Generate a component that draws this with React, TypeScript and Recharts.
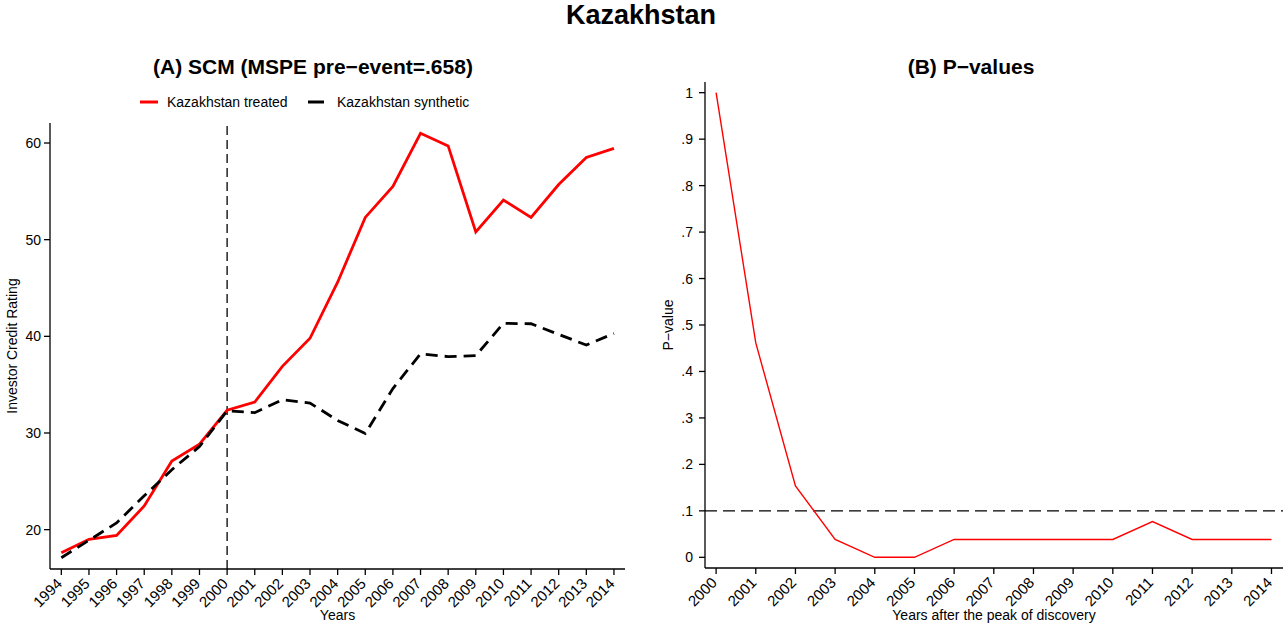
import { LineChart, Line, XAxis, YAxis, ReferenceLine } from 'recharts';

// Panel A: investor credit rating, treated vs synthetic
const years = [1994, 1995, 1996, 1997, 1998, 1999, 2000, 2001, 2002, 2003, 2004, 2005, 2006, 2007, 2008, 2009, 2010, 2011, 2012, 2013, 2014];
const treated = [17.6, 19.0, 19.4, 22.45, 27.1, 28.85, 32.35, 33.2, 36.9, 39.8, 45.6, 52.3, 55.5, 61.0, 59.7, 50.8, 54.1, 52.3, 55.7, 58.5, 59.45];
const synthetic = [17.1, 18.9, 20.7, 23.5, 26.2, 28.6, 32.3, 32.1, 33.45, 33.1, 31.3, 29.95, 34.6, 38.2, 37.9, 38.0, 41.35, 41.3, 40.2, 39.1, 40.3];
const ratingTicks = [20, 30, 40, 50, 60];

// Panel B: p-values after the peak
const pYears = [2000, 2001, 2002, 2003, 2004, 2005, 2006, 2007, 2008, 2009, 2010, 2011, 2012, 2013, 2014];
const pValues = [1, 0.4615, 0.1538, 0.0385, 0, 0, 0.0385, 0.0385, 0.0385, 0.0385, 0.0385, 0.0769, 0.0385, 0.0385, 0.0385];
const pTicks = [0, 0.1, 0.2, 0.3, 0.4, 0.5, 0.6, 0.7, 0.8, 0.9, 1];

const FONT = '"Liberation Sans", Arial, Helvetica, sans-serif';

const scmData = years.map((y, i) => ({ year: y, treated: treated[i], synthetic: synthetic[i] }));
const pData = pYears.map((y, i) => ({ year: y, p: pValues[i] }));

const YearTick = (props: any) => {
  const { x, y, payload } = props;
  return (
    <g transform={`translate(${x - 2},${y + 3})`}>
      <text x={0} y={0} dy="0.35em" textAnchor="end" transform="rotate(-45)"
        fill="#000" fontSize={15} fontFamily={FONT}>
        {payload.value}
      </text>
    </g>
  );
};

const fmtP = (v: number) => {
  if (v === 0) return '0';
  if (v === 1) return '1';
  return '.' + Math.round(v * 10);
};

const center = (x: number, y: number): React.CSSProperties => ({
  position: 'absolute', left: x, top: y, transform: 'translate(-50%, -50%)',
  whiteSpace: 'nowrap', lineHeight: 1, fontFamily: FONT, color: '#000',
});

export default function App() {
  const axisLine = { stroke: '#000', strokeWidth: 1.3 };
  return (
    <div style={{ position: 'absolute', left: 0, top: 0, width: 1283, height: 623, background: '#fff', fontFamily: FONT }}>
      <div style={{ ...center(641, 15), fontSize: 27, fontWeight: 'bold' }}>Kazakhstan</div>
      <div style={{ ...center(313, 66), fontSize: 21, fontWeight: 'bold' }}>(A) SCM (MSPE pre−event=.658)</div>
      <div style={{ ...center(971, 66), fontSize: 21, fontWeight: 'bold' }}>(B) P−values</div>

      {/* legend */}
      <div style={{ position: 'absolute', left: 140, top: 102, height: 0 }}>
        <svg width={20} height={6} style={{ position: 'absolute', left: 0, top: -3 }}>
          <line x1={0} y1={3} x2={18} y2={3} stroke="#f00" strokeWidth={3} />
        </svg>
        <span style={{ position: 'absolute', left: 27, top: -8, fontSize: 14, whiteSpace: 'nowrap', lineHeight: '16px' }}>Kazakhstan treated</span>
        <svg width={20} height={6} style={{ position: 'absolute', left: 168, top: -3 }}>
          <line x1={0} y1={3} x2={16} y2={3} stroke="#000" strokeWidth={3} />
        </svg>
        <span style={{ position: 'absolute', left: 197, top: -8, fontSize: 14, whiteSpace: 'nowrap', lineHeight: '16px' }}>Kazakhstan synthetic</span>
      </div>

      <div style={{ position: 'absolute', left: 0, top: 0 }}>
        <LineChart width={640} height={623} data={scmData} margin={{ top: 123, right: 15, bottom: 0, left: 0 }}>
          <XAxis dataKey="year" type="number" domain={[1993.59, 2014.4]} allowDataOverflow ticks={years}
            interval={0} height={54} tickSize={6} tickMargin={3} axisLine={axisLine} tickLine={axisLine}
            tick={<YearTick />}
            label={{ value: 'Years', position: 'insideBottom', offset: 3, fill: '#000', fontSize: 14, fontFamily: FONT }} />
          <YAxis domain={[15.93, 62.07]} allowDataOverflow ticks={ratingTicks} width={50} tickSize={6} tickMargin={3}
            axisLine={axisLine} tickLine={axisLine}
            tick={{ fill: '#000', fontSize: 14, fontFamily: FONT }}
            label={{ value: 'Investor Credit Rating', angle: -90, position: 'center', dx: -13, fill: '#000', fontSize: 14, fontFamily: FONT }} />
          <ReferenceLine x={2000} stroke="#000" strokeWidth={1.3} strokeDasharray="9 5" />
          <Line type="linear" dataKey="treated" stroke="#f00" strokeWidth={2.8} dot={false} isAnimationActive={false} />
          <Line type="linear" dataKey="synthetic" stroke="#000" strokeWidth={2.8} strokeDasharray="12 7" dot={false} isAnimationActive={false} />
        </LineChart>
      </div>

      <div style={{ position: 'absolute', left: 640, top: 0 }}>
        <LineChart width={643} height={623} data={pData} margin={{ top: 82, right: 0, bottom: 0, left: 0 }}>
          <XAxis dataKey="year" type="number" domain={[1999.72, 2014.29]} allowDataOverflow ticks={pYears}
            interval={0} height={55} tickSize={6} tickMargin={3} axisLine={axisLine} tickLine={axisLine}
            tick={<YearTick />}
            label={{ value: 'Years after the peak of discovery', position: 'insideBottom', offset: 3, fill: '#000', fontSize: 14, fontFamily: FONT }} />
          <YAxis domain={[-0.023, 1.023]} allowDataOverflow ticks={pTicks} width={65} tickSize={6} tickMargin={6}
            axisLine={axisLine} tickLine={axisLine} tickFormatter={fmtP}
            tick={{ fill: '#000', fontSize: 14, fontFamily: FONT }}
            label={{ value: 'P−value', angle: -90, position: 'center', dx: -4, fill: '#000', fontSize: 14, fontFamily: FONT }} />
          <ReferenceLine y={0.1} stroke="#000" strokeWidth={1.3} strokeDasharray="12 6" />
          <Line type="linear" dataKey="p" stroke="#f00" strokeWidth={1.4} dot={false} isAnimationActive={false} />
        </LineChart>
      </div>
    </div>
  );
}
